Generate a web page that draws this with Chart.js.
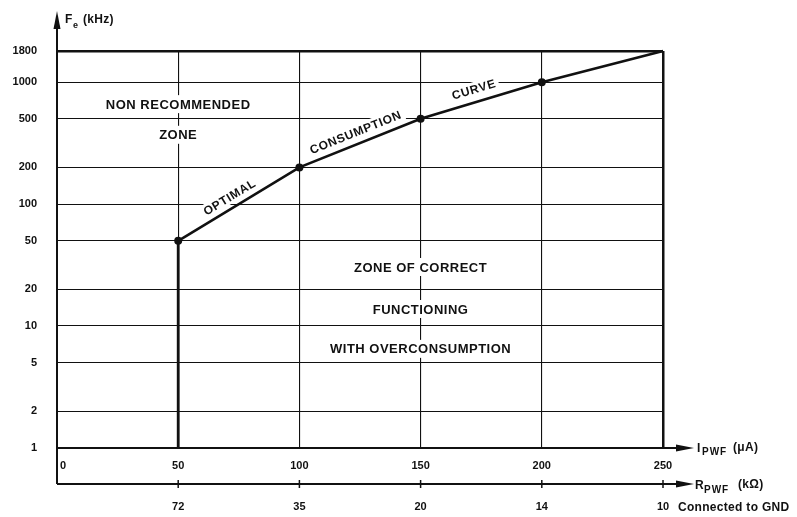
<!DOCTYPE html>
<html><head><meta charset="utf-8">
<script src="https://cdn.jsdelivr.net/npm/chart.js@4/dist/chart.umd.min.js"></script>
<style>html,body{margin:0;padding:0;background:#fff}#wrap{width:797px;height:517px;position:relative}canvas{display:block}</style>
</head><body><div id="wrap"><canvas id="c" width="797" height="517" style="width:797px;height:517px"></canvas></div>
<script>
// ---- data ----
const currentUA = [50, 100, 150, 200, 250];          // I_PWF (µA)
const freqKHz = [50, 200, 500, 1000, 1800];           // Fe (kHz) optimal consumption curve
const boundaryUA = [50, 50];                          // vertical boundary at 50 µA
const boundaryKHz = [1, 50];
const xTickValues = [0, 50, 100, 150, 200, 250];
const yTickValues = [1, 2, 5, 10, 20, 50, 100, 200, 500, 1000, 1800];
const rTickValues = [50, 100, 150, 200, 250];
const rTickLabels = ['72', '35', '20', '14', '10'];
const zoneTexts = ['NON RECOMMENDED', 'ZONE', 'ZONE OF CORRECT', 'FUNCTIONING', 'WITH OVERCONSUMPTION'];
const zoneX = [50, 50, 150, 150, 150];
const zoneY = [660, 370, 30.5, 13.8, 6.5];
const curveTexts = ['OPTIMAL', 'CONSUMPTION', 'CURVE'];
const curveSeg = [0, 1, 2];

const INK = '#111';
const FONT = '"Liberation Sans", Arial, Helvetica, sans-serif';

const annot = {
  id: 'annot',
  beforeDatasetsDraw(chart) {
    const {ctx, scales: {x, y}} = chart;
    ctx.save();
    ctx.textAlign = 'center'; ctx.textBaseline = 'middle';
    ctx.font = 'bold 13px ' + FONT;
    ctx.letterSpacing = '0.5px';
    zoneTexts.forEach((t, i) => {
      const px = x.getPixelForValue(zoneX[i]), py = y.getPixelForValue(zoneY[i]);
      const w = ctx.measureText(t).width;
      ctx.fillStyle = '#fff'; ctx.fillRect(px - w / 2 - 4, py - 9, w + 8, 18);
      ctx.fillStyle = INK; ctx.fillText(t, px, py + 1);
    });
    ctx.font = 'bold 12px ' + FONT;
    ctx.letterSpacing = '0.7px';
    const along = [0.47, 0.5, 0.47], off = [11, 12, 13];
    curveTexts.forEach((t, k) => {
      const i = curveSeg[k];
      const x1 = x.getPixelForValue(currentUA[i]), y1 = y.getPixelForValue(freqKHz[i]);
      const x2 = x.getPixelForValue(currentUA[i + 1]), y2 = y.getPixelForValue(freqKHz[i + 1]);
      const a = Math.atan2(y2 - y1, x2 - x1);
      const cx = x1 + (x2 - x1) * along[k] + Math.sin(a) * off[k];
      const cy = y1 + (y2 - y1) * along[k] - Math.cos(a) * off[k];
      ctx.save();
      ctx.translate(cx, cy); ctx.rotate(a);
      const w = ctx.measureText(t).width;
      ctx.fillStyle = '#fff'; ctx.fillRect(-w / 2 - 3, -7, w + 6, 14);
      ctx.fillStyle = INK; ctx.fillText(t, 0, 1);
      ctx.restore();
    });
    ctx.restore();
  },
  afterDraw(chart) {
    const {ctx, chartArea: ca, scales: {x, x2}} = chart;
    const xl = ca.left, yb = ca.bottom, rY = x2.top;
    ctx.save();
    ctx.strokeStyle = INK; ctx.fillStyle = INK; ctx.lineWidth = 2;
    // y axis extension with arrow
    ctx.beginPath(); ctx.moveTo(xl, rY); ctx.lineTo(xl, 26); ctx.stroke();
    ctx.beginPath(); ctx.moveTo(xl, 11); ctx.lineTo(xl - 3.5, 29); ctx.lineTo(xl + 3.5, 29); ctx.closePath(); ctx.fill();
    // x axis extension with arrow
    const tip = 694;
    [yb, rY].forEach(yy => {
      ctx.beginPath(); ctx.moveTo(ca.right, yy); ctx.lineTo(tip - 10, yy); ctx.stroke();
      ctx.beginPath(); ctx.moveTo(tip, yy); ctx.lineTo(tip - 18, yy - 3.5); ctx.lineTo(tip - 18, yy + 3.5); ctx.closePath(); ctx.fill();
    });
    // R axis border from y axis
    ctx.beginPath(); ctx.moveTo(xl, rY); ctx.lineTo(ca.right, rY); ctx.stroke();
    // R tick marks crossing line
    ctx.lineWidth = 1.5;
    rTickValues.forEach(v => {
      const px = x.getPixelForValue(v);
      ctx.beginPath(); ctx.moveTo(px, rY - 4); ctx.lineTo(px, rY + 4); ctx.stroke();
    });
    // axis titles
    ctx.textAlign = 'left'; ctx.textBaseline = 'alphabetic';
    ctx.font = 'bold 12px ' + FONT; ctx.letterSpacing = '0.3px';
    ctx.fillText('F', xl + 8, 23);
    ctx.font = 'bold 9px ' + FONT; ctx.fillText('e', xl + 16, 28);
    ctx.font = 'bold 12px ' + FONT; ctx.fillText('(kHz)', xl + 26, 23);

    ctx.fillText('I', 697, yb + 4);
    ctx.font = 'bold 10px ' + FONT; ctx.letterSpacing = '1px'; ctx.fillText('PWF', 702, yb + 7);
    ctx.letterSpacing = '0.3px';
    ctx.font = 'bold 12px ' + FONT; ctx.fillText('(\u03BCA)', 733, yb + 3);

    ctx.fillText('R', 695, rY + 5);
    ctx.font = 'bold 10px ' + FONT; ctx.letterSpacing = '1px'; ctx.fillText('PWF', 704, rY + 9);
    ctx.letterSpacing = '0.3px';
    ctx.font = 'bold 12px ' + FONT; ctx.fillText('(k\u03A9)', 738, rY + 4);

    ctx.fillText('Connected to GND', 678, 511);
    ctx.restore();
  }
};

new Chart(document.getElementById('c'), {
  type: 'scatter',
  data: {
    datasets: [
      {
        data: currentUA.map((v, i) => ({x: v, y: freqKHz[i]})),
        showLine: true, borderColor: INK, borderWidth: 2.6, backgroundColor: INK,
        pointRadius: currentUA.map((v, i) => i < currentUA.length - 1 ? 4 : 0),
        pointBorderWidth: 0, clip: false, tension: 0
      },
      {
        data: boundaryUA.map((v, i) => ({x: v, y: boundaryKHz[i]})),
        showLine: true, borderColor: INK, borderWidth: 2.8, pointRadius: 0, clip: false
      }
    ]
  },
  options: {
    responsive: false, animation: false, devicePixelRatio: 1,
    layout: {padding: {top: 51, right: 134, left: 0, bottom: 0}},
    plugins: {legend: {display: false}, tooltip: {enabled: false}},
    scales: {
      x: {
        type: 'linear', min: 0, max: 250, position: 'bottom', weight: 0,
        afterBuildTicks: s => { s.ticks = xTickValues.map(v => ({value: v})); },
        afterFit: s => { s.height = 36; },
        ticks: {
          color: INK, font: {family: FONT, size: 11, weight: 'bold'}, padding: 11, maxRotation: 0,
          autoSkip: false,
          callback: v => v === 0 ? '\u2007\u20070' : String(v)
        },
        grid: {
          color: ctx => ctx.tick && ctx.tick.value === 0 ? 'rgba(0,0,0,0)' : INK,
          lineWidth: ctx => ctx.tick && ctx.tick.value === 250 ? 2.5 : 1.1,
          drawTicks: false
        },
        border: {display: true, color: INK, width: 2}
      },
      x2: {
        type: 'linear', min: 0, max: 250, position: 'bottom', weight: 1,
        afterBuildTicks: s => { s.ticks = rTickValues.map(v => ({value: v})); },
        afterFit: s => { s.height = 33; },
        ticks: {
          color: INK, font: {family: FONT, size: 11, weight: 'bold'}, padding: 8, maxRotation: 0,
          autoSkip: false,
          callback: v => rTickLabels[rTickValues.indexOf(v)]
        },
        grid: {display: false, drawOnChartArea: false},
        border: {display: false}
      },
      y: {
        type: 'logarithmic', min: 1, max: 1800, position: 'left',
        afterBuildTicks: s => { s.ticks = yTickValues.map(v => ({value: v})); },
        afterFit: s => { s.width = 57; },
        ticks: {
          color: INK, font: {family: FONT, size: 11, weight: 'bold'}, padding: 20, autoSkip: false,
          callback: v => String(v)
        },
        grid: {
          color: ctx => ctx.tick && ctx.tick.value === 1 ? 'rgba(0,0,0,0)' : INK,
          lineWidth: ctx => ctx.tick && ctx.tick.value === 1800 ? 2.5 : 1.1,
          drawTicks: false
        },
        border: {display: true, color: INK, width: 2}
      }
    }
  },
  plugins: [annot]
});
</script>
</body></html>
